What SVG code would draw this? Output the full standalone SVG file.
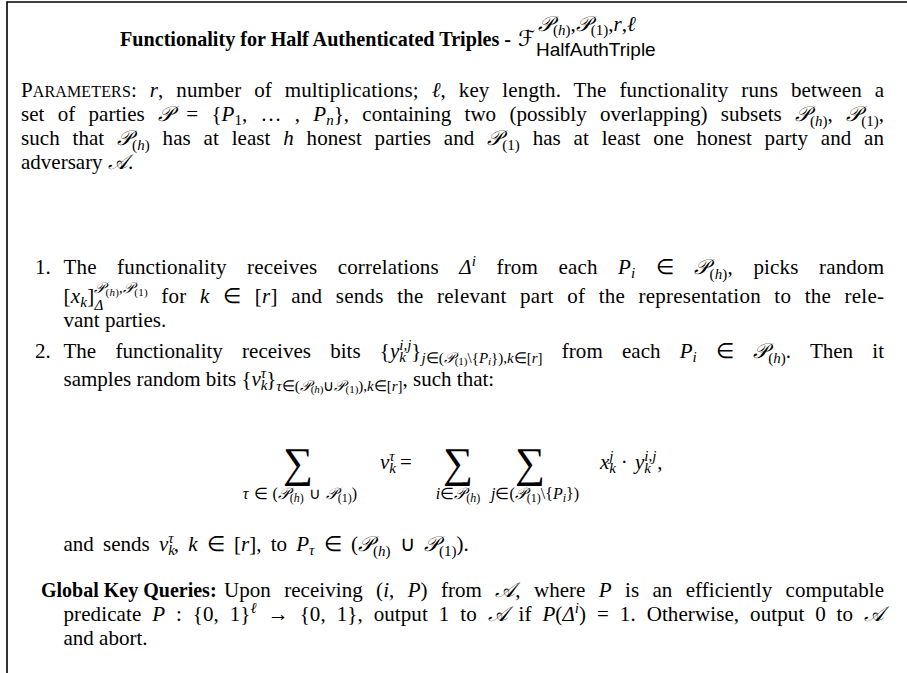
<svg xmlns="http://www.w3.org/2000/svg" width="907" height="673" viewBox="0 0 907 673">
<style>
text{font-family:"Liberation Serif","Times New Roman",serif;font-size:21px;fill:#000}
.i{font-style:italic}
.b{font-weight:bold}
.tt{font-size:22px}
.sc{font-size:16px}
.s{font-size:15px}
.ss{font-size:11px}
.ls{font-size:16px}
.lss{font-size:12px}
.ts{font-size:21px}
.tss{font-size:15px}
.cal{font-family:"DejaVu Serif","DejaVu Sans",serif;font-style:italic}
.sf{font-family:"Liberation Sans",Arial,sans-serif;font-size:19px}
.op{font-size:42px}
</style>
<rect width="907" height="673" fill="#fff"/>
<!-- frame: top rule and left rule only -->
<path d="M907 2H7V673" fill="none" stroke="#000" stroke-width="1.6"/>

<g id="title">
<text class="b tt" x="120" y="46" textLength="391" lengthAdjust="spacingAndGlyphs">Functionality for Half Authenticated Triples -</text>
<text x="518" y="46" class="cal tt">ℱ</text>
<text x="538" y="31" class="ts"><tspan class="cal">𝒫</tspan><tspan class="tss" dy="4">(<tspan class="i">h</tspan>)</tspan><tspan dy="-4">,</tspan><tspan class="cal">𝒫</tspan><tspan class="tss" dy="4">(1)</tspan><tspan dy="-4">,<tspan class="i">r</tspan>,<tspan class="i">ℓ</tspan></tspan></text>
<text x="536" y="56" class="sf">HalfAuthTriple</text>
</g>

<g id="parameters">
<text x="21" y="97" textLength="863" lengthAdjust="spacing" style="word-spacing:7.5px">P<tspan class="sc">ARAMETERS</tspan>: <tspan class="i">r</tspan>, number of multiplications; <tspan class="i">ℓ</tspan>, key length. The functionality runs between a</text>
<text x="21" y="121" textLength="863" lengthAdjust="spacing" style="word-spacing:8px">set of parties <tspan class="cal">𝒫</tspan> = {<tspan class="i">P</tspan><tspan class="s" dy="4">1</tspan><tspan dy="-4">, … , </tspan><tspan class="i">P</tspan><tspan class="s i" dy="4">n</tspan><tspan dy="-4">}, containing two (possibly overlapping) subsets </tspan><tspan class="cal">𝒫</tspan><tspan class="s" dy="5">(<tspan class="i">h</tspan>)</tspan><tspan dy="-5">, </tspan><tspan class="cal">𝒫</tspan><tspan class="s" dy="5">(1)</tspan><tspan dy="-5">,</tspan></text>
<text x="21" y="145" textLength="863" lengthAdjust="spacing" style="word-spacing:7.5px">such that <tspan class="cal">𝒫</tspan><tspan class="s" dy="5">(<tspan class="i">h</tspan>)</tspan><tspan dy="-5"> has at least </tspan><tspan class="i">h</tspan> honest parties and <tspan class="cal">𝒫</tspan><tspan class="s" dy="5">(1)</tspan><tspan dy="-5"> has at least one honest party and an</tspan></text>
<text x="21" y="169">adversary <tspan class="cal">𝒜</tspan>.</text>
</g>

<g id="step1">
<text x="35" y="274">1.</text>
<text x="63.5" y="274" textLength="820.5" lengthAdjust="spacing" style="word-spacing:15px">The functionality receives correlations <tspan class="i">Δ</tspan><tspan class="s i" dy="-8">i</tspan><tspan dy="8"> from each </tspan><tspan class="i">P</tspan><tspan class="s i" dy="4">i</tspan><tspan dy="-4"> ∈ </tspan><tspan class="cal">𝒫</tspan><tspan class="s" dy="5">(<tspan class="i">h</tspan>)</tspan><tspan dy="-5">, picks random</tspan></text>
<text x="63.5" y="303" textLength="820.5" lengthAdjust="spacing" style="word-spacing:8px">[<tspan class="i">x</tspan><tspan class="s i" dy="4">k</tspan><tspan dy="-4">]</tspan><tspan class="s i" dy="7">Δ</tspan><tspan class="s" dx="-9.2" dy="-17"><tspan class="cal">𝒫</tspan><tspan class="ss" dy="3">(<tspan class="i">h</tspan>)</tspan><tspan dy="-3">,</tspan><tspan class="cal">𝒫</tspan><tspan class="ss" dy="3">(1)</tspan></tspan><tspan dy="7"> for </tspan><tspan class="i">k</tspan> ∈ [<tspan class="i">r</tspan>] and sends the relevant part of the representation to the rele-</text>
<text x="63.5" y="327">vant parties.</text>
</g>

<g id="step2">
<text x="35" y="358">2.</text>
<text x="63.5" y="358" textLength="820.5" lengthAdjust="spacing" style="word-spacing:14px">The functionality receives bits {<tspan class="i">y</tspan><tspan class="s i" dy="4">k</tspan><tspan class="s i" dx="-6.7" dy="-12">i,j</tspan><tspan dy="8">}</tspan><tspan class="s" dy="5"><tspan class="i">j</tspan>∈(<tspan class="cal">𝒫</tspan><tspan class="ss" dy="2">(1)</tspan><tspan dy="-2">\{</tspan><tspan class="i">P</tspan><tspan class="ss i" dy="2">i</tspan><tspan dy="-2">}),</tspan><tspan class="i">k</tspan>∈[<tspan class="i">r</tspan>]</tspan><tspan dy="-5"> from each </tspan><tspan class="i">P</tspan><tspan class="s i" dy="4">i</tspan><tspan dy="-4"> ∈ </tspan><tspan class="cal">𝒫</tspan><tspan class="s" dy="5">(<tspan class="i">h</tspan>)</tspan><tspan dy="-5">. Then it</tspan></text>
<text x="63.5" y="386">samples random bits {<tspan class="i">v</tspan><tspan class="s i" dy="4">k</tspan><tspan class="s i" dx="-6.7" dy="-12">τ</tspan><tspan dy="8">}</tspan><tspan class="s" dy="5"><tspan class="i">τ</tspan>∈(<tspan class="cal">𝒫</tspan><tspan class="ss" dy="2">(<tspan class="i">h</tspan>)</tspan><tspan dy="-2">∪</tspan><tspan class="cal">𝒫</tspan><tspan class="ss" dy="2">(1)</tspan><tspan dy="-2">),</tspan><tspan class="i">k</tspan>∈[<tspan class="i">r</tspan>]</tspan><tspan dy="-5">, such that:</tspan></text>

<!-- displayed equation: sums with limits underneath -->
<text class="op" x="298" y="477" text-anchor="middle">∑</text>
<text class="ls" x="300" y="499" text-anchor="middle" style="word-spacing:1px"><tspan class="i">τ</tspan> ∈ (<tspan class="cal">𝒫</tspan><tspan class="lss" dy="3">(<tspan class="i">h</tspan>)</tspan><tspan dy="-3"> ∪ </tspan><tspan class="cal">𝒫</tspan><tspan class="lss" dy="3">(1)</tspan><tspan dy="-3">)</tspan></text>
<text x="380" y="469"><tspan class="i">v</tspan><tspan class="s i" dy="4">k</tspan><tspan class="s i" dx="-6.7" dy="-12">τ</tspan><tspan dy="8"> = </tspan></text>
<text class="op" x="458" y="477" text-anchor="middle">∑</text>
<text class="ls" x="458" y="499" text-anchor="middle"><tspan class="i">i</tspan>∈<tspan class="cal">𝒫</tspan><tspan class="lss" dy="3">(<tspan class="i">h</tspan>)</tspan></text>
<text class="op" x="530" y="477" text-anchor="middle">∑</text>
<text class="ls" x="535" y="499" text-anchor="middle"><tspan class="i">j</tspan>∈(<tspan class="cal">𝒫</tspan><tspan class="lss" dy="3">(1)</tspan><tspan dy="-3">\{</tspan><tspan class="i">P</tspan><tspan class="lss i" dy="3">i</tspan><tspan dy="-3">})</tspan></text>
<text x="600" y="469"><tspan class="i">x</tspan><tspan class="s i" dy="4">k</tspan><tspan class="s i" dx="-6.7" dy="-12">j</tspan><tspan dy="8" dx="2"> · </tspan><tspan class="i" dx="2">y</tspan><tspan class="s i" dy="4">k</tspan><tspan class="s i" dx="-6.7" dy="-12">i,j</tspan><tspan dy="8" dx="1">,</tspan></text>

<text x="63.5" y="551" style="word-spacing:4px">and sends <tspan class="i">v</tspan><tspan class="s i" dy="4">k</tspan><tspan class="s i" dx="-6.7" dy="-12">τ</tspan><tspan dy="8">, </tspan><tspan class="i">k</tspan> ∈ [<tspan class="i">r</tspan>], to <tspan class="i">P</tspan><tspan class="s i" dy="4">τ</tspan><tspan dy="-4"> ∈ (</tspan><tspan class="cal">𝒫</tspan><tspan class="s" dy="5">(<tspan class="i">h</tspan>)</tspan><tspan dy="-5"> ∪ </tspan><tspan class="cal">𝒫</tspan><tspan class="s" dy="5">(1)</tspan><tspan dy="-5">).</tspan></text>
</g>

<g id="global-key-queries">
<text class="b" x="41" y="597" style="font-size:20px">Global Key Queries:</text>
<text x="224" y="597" textLength="660" lengthAdjust="spacing" style="word-spacing:8px">Upon receiving (<tspan class="i">i</tspan>, <tspan class="i">P</tspan>) from <tspan class="cal">𝒜</tspan>, where <tspan class="i">P</tspan> is an efficiently computable</text>
<text x="63.5" y="621" textLength="820.5" lengthAdjust="spacing" style="word-spacing:5.5px">predicate <tspan class="i">P</tspan> : {0, 1}<tspan class="s i" dy="-8">ℓ</tspan><tspan dy="8"> → {0, 1}, output 1 to </tspan><tspan class="cal">𝒜</tspan> if <tspan class="i">P</tspan>(<tspan class="i">Δ</tspan><tspan class="s i" dy="-8">i</tspan><tspan dy="8">) = 1. Otherwise, output 0 to </tspan><tspan class="cal">𝒜</tspan></text>
<text x="63.5" y="645">and abort.</text>
</g>
</svg>
